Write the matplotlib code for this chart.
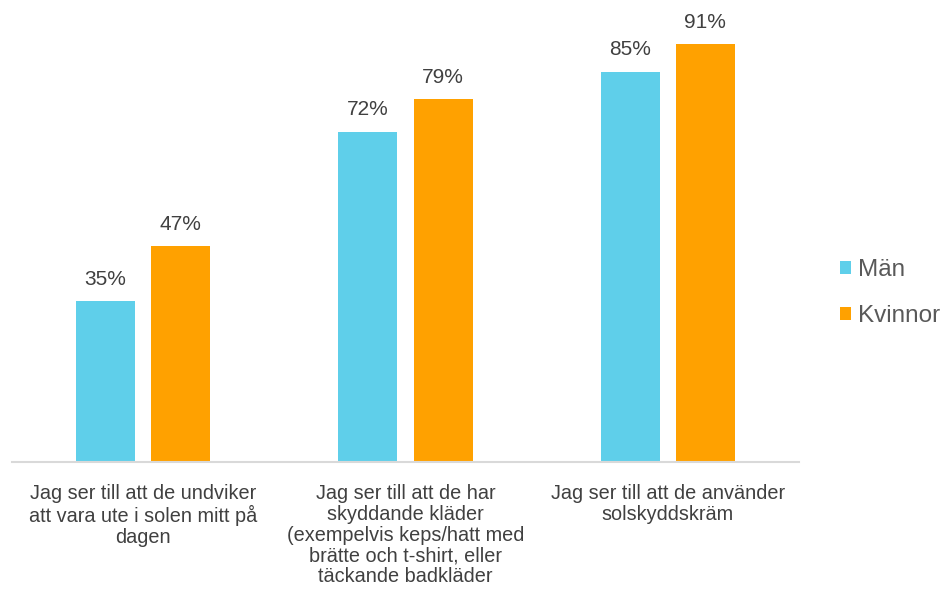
import numpy as np
import matplotlib.pyplot as plt

plt.rcParams['font.family'] = ['Liberation Sans', 'DejaVu Sans']

categories = [
    'Jag ser till att de undviker\natt vara ute i solen mitt på\ndagen',
    'Jag ser till att de har\nskyddande kläder\n(exempelvis keps/hatt med\nbrätte och t-shirt, eller\ntäckande badkläder',
    'Jag ser till att de använder\nsolskyddskräm',
]
man = [35, 72, 85]
kvinnor = [47, 79, 91]
series_names = ['Män', 'Kvinnor']
colors = ['#5FCFEA', '#FFA100']

W, H = 943, 597
fig = plt.figure(figsize=(W / 100, H / 100), dpi=100)
ax = fig.add_axes([12 / W, (H - 462) / H, (799 - 12) / W, (462 - 3) / H])

x = np.arange(len(categories))
width = 0.225
offset = 0.143
bars = []
for vals, off, col, name in zip([man, kvinnor], [-offset, offset], colors, series_names):
    b = ax.bar(x + off, vals, width, color=col, label=name)
    bars.append(b)
    for rect, v in zip(b, vals):
        ax.annotate(f'{v}%', xy=(rect.get_x() + rect.get_width() / 2, v),
                    xytext=(0, 9), textcoords='offset points',
                    ha='center', va='bottom', fontsize=15, color='#404040')

ax.set_xlim(-0.5, len(categories) - 0.5)
ax.set_ylim(0, 100)
ax.set_yticks([])
ax.set_xticks(x)
ax.set_xticklabels(categories, fontsize=14.3, color='#404040', linespacing=1.12)
ax.tick_params(axis='x', length=0, pad=16)
for s in ['top', 'right', 'left']:
    ax.spines[s].set_visible(False)
ax.spines['bottom'].set_color('#D9D9D9')
ax.spines['bottom'].set_linewidth(1.5)

leg = fig.legend(handles=bars, labels=series_names, loc='center left',
                 bbox_to_anchor=(818 / W, 1 - 293 / H), frameon=False,
                 fontsize=17.5, handlelength=0.45, handleheight=0.45,
                 handletextpad=0.3, labelspacing=1.0)
for t in leg.get_texts():
    t.set_color('#595959')

fig.savefig('out.png', dpi=100)
